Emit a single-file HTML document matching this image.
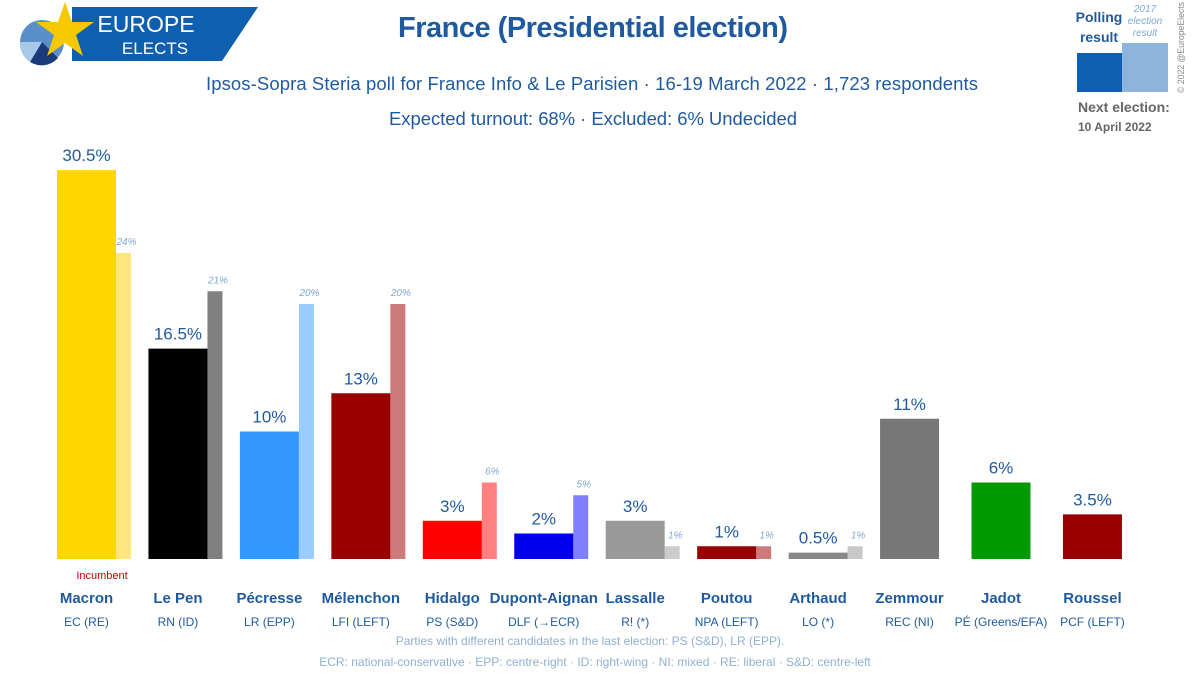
<!DOCTYPE html>
<html><head><meta charset="utf-8">
<style>
body{margin:0;width:1200px;height:676px;background:#fff;overflow:hidden;font-family:"Liberation Sans",sans-serif;}
svg{display:block}
</style></head><body>
<svg id="chart" width="1200" height="676" xmlns="http://www.w3.org/2000/svg">
  <g>
    <polygon points="72,7 258,7 222,61 72,61" fill="#0f5fb0"/>
    <circle cx="42" cy="42" r="22" fill="#5a8fc8"/>
    <path d="M42,42 L30,62 A22,22 0 0 0 58,58 Z" fill="#1a3a7a"/>
    <path d="M42,42 L20,42 A22,22 0 0 0 30,62 Z" fill="#a8c8e8"/>
    <polygon points="65,2 72,22 94,22 76,35 83,56 65,43 47,56 54,35 36,22 58,22" fill="#f5c800"/>
    <text x="146" y="32" font-size="23" fill="#fff" text-anchor="middle">EUROPE</text>
    <text x="155" y="54" font-size="17" fill="#fff" text-anchor="middle">ELECTS</text>
  </g>
  <text x="593" y="37" font-size="29" font-weight="bold" fill="#1f5a9e" text-anchor="middle" textLength="390">France (Presidential election)</text>
  <text x="592" y="90" font-size="18.5" fill="#1f5a9e" text-anchor="middle" textLength="772">Ipsos-Sopra Steria poll for France Info &amp; Le Parisien · 16-19 March 2022 · 1,723 respondents</text>
  <text x="593" y="125" font-size="18.5" fill="#1f5a9e" text-anchor="middle" textLength="408">Expected turnout: 68% · Excluded: 6% Undecided</text>

  <g>
    <text x="1099" y="22" font-size="14" font-weight="bold" fill="#1f5a9e" text-anchor="middle">Polling</text>
    <text x="1099" y="42" font-size="14" font-weight="bold" fill="#1f5a9e" text-anchor="middle">result</text>
    <text x="1145" y="12" font-size="10" font-style="italic" fill="#7fa8d4" text-anchor="middle">2017</text>
    <text x="1145" y="24" font-size="10" font-style="italic" fill="#7fa8d4" text-anchor="middle">election</text>
    <text x="1145" y="36" font-size="10" font-style="italic" fill="#7fa8d4" text-anchor="middle">result</text>
    <rect x="1077" y="53" width="46" height="39" fill="#0f5fb0"/>
    <rect x="1122" y="43" width="46" height="49" fill="#8cb4dc"/>
    <text x="1078" y="112" font-size="14" font-weight="bold" fill="#666">Next election:</text>
    <text x="1078" y="131" font-size="12" font-weight="bold" fill="#666">10 April 2022</text>
    <text transform="translate(1184,93) rotate(-90)" font-size="9" fill="#888" textLength="91" lengthAdjust="spacingAndGlyphs">© 2022 @EuropeElects</text>
  </g>

  <g id="bars"></g>

  <text x="102" y="579" font-size="11" fill="#cc0000" text-anchor="middle">Incumbent</text>
  <text x="590" y="645" font-size="12" fill="#8fb0d0" text-anchor="middle">Parties with different candidates in the last election: PS (S&amp;D), LR (EPP).</text>
  <text x="595" y="666" font-size="12" fill="#8fb0d0" text-anchor="middle">ECR: national-conservative · EPP: centre-right · ID: right-wing · NI: mixed · RE: liberal · S&amp;D: centre-left</text>
</svg>
<script>
const candidates = ["Macron","Le Pen","Pécresse","Mélenchon","Hidalgo","Dupont-Aignan","Lassalle","Poutou","Arthaud","Zemmour","Jadot","Roussel"];
const parties = ["EC (RE)","RN (ID)","LR (EPP)","LFI (LEFT)","PS (S&D)","DLF (→ECR)","R! (*)","NPA (LEFT)","LO (*)","REC (NI)","PÉ (Greens/EFA)","PCF (LEFT)"];
const pollValues = [30.5,16.5,10,13,3,2,3,1,0.5,11,6,3.5];
const pollLabels = ["30.5%","16.5%","10%","13%","3%","2%","3%","1%","0.5%","11%","6%","3.5%"];
const prevValues = [24,21,20,20,6,5,1,1,1,null,null,null];
const prevLabels = ["24%","21%","20%","20%","6%","5%","1%","1%","1%","","",""];
const mainColors = ["#ffd700","#000000","#3399ff","#990000","#ff0000","#0000ee","#999999","#990000","#888888","#777777","#009900","#990000"];
const prevColors = ["#ffe680","#808080","#99ccff","#cc7a7a","#ff8080","#8080ff","#cccccc","#cc7a7a","#c8c8c8"];

const NS="http://www.w3.org/2000/svg";
const g=document.getElementById('bars');
const baseY=559, pxPer=12.75, x0=57, step=91.45, bw=59, sw=15;
function yScale(v){return baseY - v*pxPer;}
function xScale(i){return x0 + i*step;}
function mk(tag,attrs,txt){const e=document.createElementNS(NS,tag);for(const k in attrs)e.setAttribute(k,attrs[k]);if(txt!==undefined)e.textContent=txt;g.appendChild(e);return e;}
candidates.forEach((c,i)=>{
  const x=xScale(i);
  if(prevValues[i]!==null){
    const r=mk('rect',{x:x+bw,y:yScale(prevValues[i]),width:sw,height:baseY-yScale(prevValues[i]),fill:prevColors[i]});
    
    
    const t=mk('text',{x:x+bw+sw/2+3,y:yScale(prevValues[i])-8,'font-size':10,'font-style':'italic',fill:'#7fa8d4','text-anchor':'middle'},prevLabels[i]);
    
    
  }
  const r=mk('rect',{x:x,y:yScale(pollValues[i]),width:bw,height:baseY-yScale(pollValues[i]),fill:mainColors[i]});
  
  
  const t=mk('text',{x:x+bw/2,y:yScale(pollValues[i])-9,'font-size':17,fill:'#1f5a9e','text-anchor':'middle'},pollLabels[i]);
  
  
  const n=mk('text',{x:x+bw/2,y:603,'font-size':15,'font-weight':'bold',fill:'#1f5a9e','text-anchor':'middle'},c);
  
  
  const p=mk('text',{x:x+bw/2,y:626,'font-size':12,fill:'#1f5a9e','text-anchor':'middle'},parties[i]);
  
  
});
</script>
</body></html>
